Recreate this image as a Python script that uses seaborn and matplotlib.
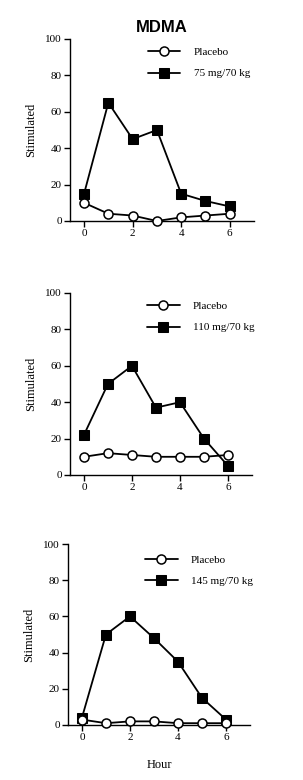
import matplotlib
matplotlib.use("Agg")
import matplotlib.pyplot as plt
import seaborn as sns
import pandas as pd

sns.set_theme(style="ticks")
plt.rcParams['font.family'] = ['Liberation Serif', 'DejaVu Serif']
for k in ["text.color", "axes.labelcolor", "xtick.color", "ytick.color", "axes.edgecolor"]:
    plt.rcParams[k] = "black"

hours = [0, 1, 2, 3, 4, 5, 6]
placebo_1 = [10, 4, 3, 0, 2, 3, 4]
dose_1 = [15, 65, 45, 50, 15, 11, 8]
placebo_2 = [10, 12, 11, 10, 10, 10, 11]
dose_2 = [22, 50, 60, 37, 40, 20, 5]
placebo_3 = [3, 1, 2, 2, 1, 1, 1]
dose_3 = [4, 50, 60, 48, 35, 15, 3]
dose_labels = ["75 mg/70 kg", "110 mg/70 kg", "145 mg/70 kg"]
title = "MDMA"
ylabel = "Stimulated"
xlabel = "Hour"
xticks = [0, 2, 4, 6]
yticks = [0, 20, 40, 60, 80, 100]

fig = plt.figure(figsize=(3.03, 7.8), dpi=100)
positions = [
    [70/303, 1-221/780, 184/303, 182/780],
    [70/303, 1-475/780, 182/303, 182/780],
    [68/303, 1-725/780, 182/303, 181/780],
]
legend_y = [0.955, 0.955, 0.94]
panels = [(placebo_1, dose_1), (placebo_2, dose_2), (placebo_3, dose_3)]

for i, (pos, (pl, ds)) in enumerate(zip(positions, panels)):
    ax = fig.add_axes(pos)
    df = pd.DataFrame({"Hour": hours, "Placebo": pl, dose_labels[i]: ds})
    sns.lineplot(data=df, x="Hour", y="Placebo", ax=ax, color="black", lw=1.3,
                 marker="o", markersize=6.5, markerfacecolor="white",
                 markeredgecolor="black", markeredgewidth=1.1, label="Placebo",
                 clip_on=False, zorder=3)
    sns.lineplot(data=df, x="Hour", y=dose_labels[i], ax=ax, color="black", lw=1.3,
                 marker="s", markersize=7.2, markerfacecolor="black",
                 markeredgecolor="black", label=dose_labels[i],
                 clip_on=False, zorder=2)
    ax.set_xlim(-0.58, 7.0)
    ax.set_ylim(0, 100)
    ax.set_xticks(xticks)
    ax.set_yticks(yticks)
    ax.tick_params(direction="out", length=4, width=1, labelsize=8, pad=2)
    for s in ["top", "right"]:
        ax.spines[s].set_visible(False)
    for s in ["left", "bottom"]:
        ax.spines[s].set_linewidth(1)
        ax.spines[s].set_color("black")
    ax.set_ylabel(ylabel, fontsize=9, labelpad=6)
    if i == 2:
        ax.set_xlabel(xlabel, fontsize=9, labelpad=12)
    else:
        ax.set_xlabel("")
    if i == 0:
        ax.set_title(title, fontsize=12, fontweight="bold",
                     family=["Liberation Sans"], pad=5)
    ax.legend(loc="upper left", bbox_to_anchor=(0.425, legend_y[i]), frameon=False,
              fontsize=8, handlelength=2.9, labelspacing=1.05,
              handletextpad=1.2, borderaxespad=0, borderpad=0)

fig.savefig("out.png", dpi=100)
